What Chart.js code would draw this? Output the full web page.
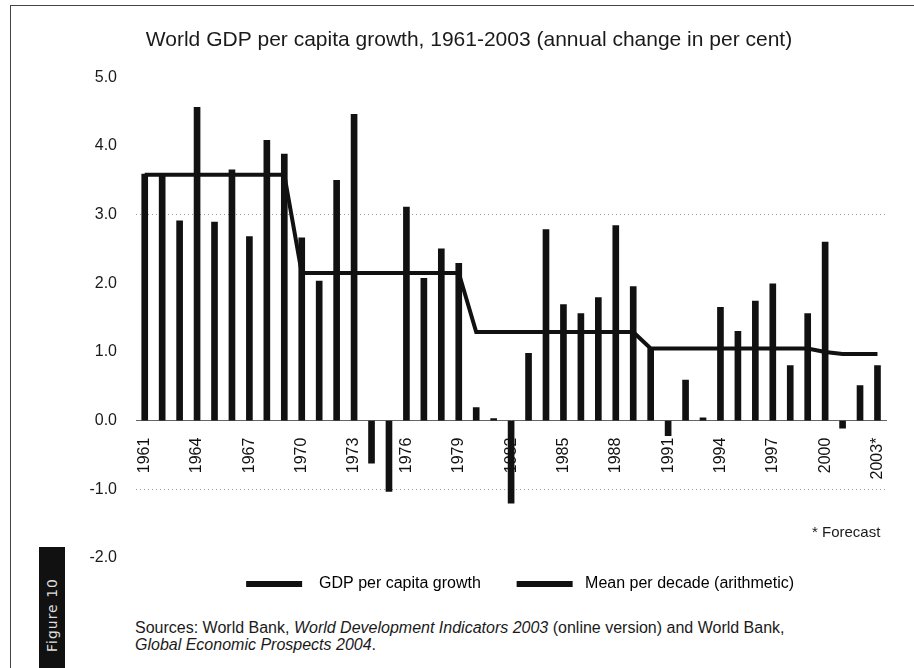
<!DOCTYPE html>
<html>
<head>
<meta charset="utf-8">
<script src="https://cdn.jsdelivr.net/npm/chart.js@4.4.1/dist/chart.umd.min.js"></script>
<style>
  html, body { margin: 0; padding: 0; background: #fff; }
  #wrap { position: relative; width: 914px; height: 668px; overflow: hidden; background: #fff; font-family: "Liberation Sans", Arial, sans-serif; color: #1a1a1a; }
  #chartBox { position: absolute; left: 0; top: 0; width: 914px; height: 606px; }
  #frame { position: absolute; left: 10px; top: 5px; width: 910px; height: 670px; border-top: 1px solid #444; border-left: 1px solid #444; }
  #figBox { position: absolute; left: 39px; top: 547px; width: 26px; height: 121px; background: #111; }
  #figBox span { position: absolute; left: 13px; top: 68px; transform: translate(-50%, -50%) rotate(-90deg); color: #ddd; font-size: 14px; white-space: nowrap; font-family: "DejaVu Sans", sans-serif; letter-spacing: 1px; }
  #forecast { position: absolute; left: 812px; top: 523px; font-size: 15px; white-space: nowrap; }
  #sources { position: absolute; left: 135px; top: 619px; font-size: 16px; line-height: 17px; white-space: nowrap; }
</style>
</head>
<body>
<div id="wrap">
  <div id="frame"></div>
  <div id="chartBox"><canvas id="c" width="914" height="606"></canvas></div>
  <div id="forecast">* Forecast</div>
  <div id="figBox"><span>Figure 10</span></div>
  <div id="sources">Sources: World Bank, <i>World Development Indicators 2003</i> (online version) and World Bank,<br><i>Global Economic Prospects 2004</i>.</div>
</div>
<script>
const categories = ['1961','1962','1963','1964','1965','1966','1967','1968','1969','1970',
  '1971','1972','1973','1974','1975','1976','1977','1978','1979','1980',
  '1981','1982','1983','1984','1985','1986','1987','1988','1989','1990',
  '1991','1992','1993','1994','1995','1996','1997','1998','1999','2000',
  '2001','2002','2003*'];
const growth = [3.59, 3.60, 2.91, 4.56, 2.89, 3.65, 2.68, 4.08, 3.88, 2.66,
  2.03, 3.50, 4.46, -0.62, -1.03, 3.11, 2.07, 2.50, 2.29, 0.19,
  0.03, -1.20, 0.98, 2.78, 1.69, 1.56, 1.79, 2.84, 1.95, 1.05,
  -0.22, 0.59, 0.04, 1.65, 1.30, 1.74, 1.99, 0.80, 1.56, 2.60,
  -0.11, 0.51, 0.80];
const decadeMean = [3.58, 3.58, 3.58, 3.58, 3.58, 3.58, 3.58, 3.58, 3.58, 2.15,
  2.15, 2.15, 2.15, 2.15, 2.15, 2.15, 2.15, 2.15, 2.15, 1.29,
  1.29, 1.29, 1.29, 1.29, 1.29, 1.29, 1.29, 1.29, 1.29, 1.05,
  1.05, 1.05, 1.05, 1.05, 1.05, 1.05, 1.05, 1.05, 1.05, 1.00,
  0.97, 0.97, 0.97];
const shownTickLabels = ['1961','1964','1967','1970','1973','1976','1979','1982','1985','1988','1991','1994','1997','2000','2003*'];
const seriesNames = ['GDP per capita growth', 'Mean per decade (arithmetic)'];
const titleText = 'World GDP per capita growth, 1961-2003 (annual change in per cent)';

Chart.defaults.font.family = '"Liberation Sans", Arial, sans-serif';
Chart.defaults.color = '#1a1a1a';

new Chart(document.getElementById('c'), {
  type: 'bar',
  data: {
    labels: categories,
    datasets: [
      {
        type: 'bar',
        label: seriesNames[0],
        data: growth,
        backgroundColor: '#111',
        borderWidth: 0,
        barThickness: 6,
        order: 2
      },
      {
        type: 'line',
        label: seriesNames[1],
        data: decadeMean,
        borderColor: '#111',
        backgroundColor: '#111',
        borderWidth: 4,
        pointRadius: 0,
        tension: 0,
        order: 1
      }
    ]
  },
  options: {
    responsive: false,
    animation: false,
    layout: { padding: { left: 47, right: 23, top: 0, bottom: 4 } },
    plugins: {
      title: {
        display: true,
        text: titleText,
        font: { size: 21, weight: 'normal' },
        color: '#1a1a1a',
        padding: { top: 28, bottom: 24 }
      },
      legend: {
        display: true,
        position: 'bottom',
        fullSize: false,
        labels: {
          boxWidth: 56,
          boxHeight: 6,
          padding: 18,
          font: { size: 16 },
          color: '#1a1a1a',
          generateLabels: (chart) => chart.data.datasets.map((ds, i) => ({
            text: (i === 0 ? '  ' : ' ') + ds.label + (i === 0 ? '    ' : ''),
            fillStyle: '#111',
            strokeStyle: '#111',
            lineWidth: 0,
            hidden: false,
            datasetIndex: i
          }))
        }
      },
      tooltip: { enabled: false }
    },
    scales: {
      x: {
        position: { y: 0 },
        offset: true,
        grid: { display: false, drawTicks: false },
        border: { display: true, color: '#666', width: 1 },
        ticks: {
          autoSkip: false,
          minRotation: 90,
          maxRotation: 90,
          padding: 17,
          font: { size: 16 },
          color: '#111',
          callback: function (value) {
            const lab = this.getLabelForValue(value);
            return shownTickLabels.includes(lab) ? lab : '';
          }
        }
      },
      y: {
        min: -2,
        max: 5,
        afterFit: (scale) => { scale.width = 89; },
        grid: {
          drawTicks: false,
          color: (ctx) => (ctx.tick && (ctx.tick.value === 3 || ctx.tick.value === -1)) ? '#9a9a9a' : 'rgba(0,0,0,0)',
          lineWidth: 1
        },
        border: { display: false, dash: [1, 3] },
        ticks: {
          stepSize: 1,
          padding: 19,
          font: { size: 16 },
          color: '#1a1a1a',
          callback: (v) => Number(v).toFixed(1)
        }
      }
    }
  },
  plugins: [{
    id: 'legendNudge',
    afterLayout: (chart) => {
      if (chart.legend) { chart.legend.left += 9; chart.legend.right += 9; }
    }
  }]
});
</script>
</body>
</html>
